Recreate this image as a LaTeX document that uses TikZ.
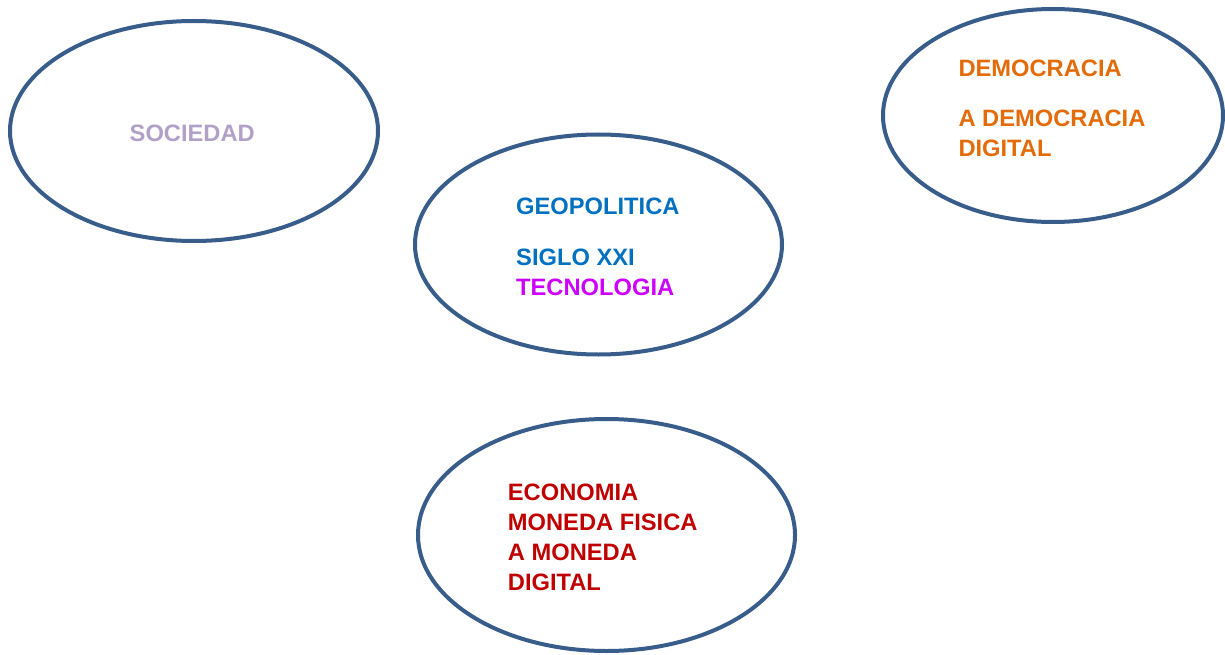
\documentclass[tikz,border=0pt]{standalone}
\usepackage{fontspec}
\setmainfont{Liberation Sans}
\usetikzlibrary{shapes.geometric}
\usetikzlibrary{positioning}

\definecolor{bubbleline}{HTML}{385D8A}
\definecolor{socio}{HTML}{B2A1C7}
\definecolor{geoblue}{HTML}{0070C0}
\definecolor{tecno}{HTML}{CC00FF}
\definecolor{demo}{HTML}{E36C09}
\definecolor{eco}{HTML}{C00000}

\begin{document}
\begin{tikzpicture}[
    x=1pt, y=-1pt,
    bubble/.style={ellipse, draw=bubbleline, line width=4pt, inner sep=0pt},
    words/.style={anchor=base west, align=left, inner sep=0pt,
                  font=\fontsize{23.7}{29.7}\selectfont\bfseries}
]
\useasboundingbox (0,0) rectangle (1225,655);

% --- Ellipses ---
\node[bubble, minimum width=368pt, minimum height=220pt] (soc) at (194,131) {};
\node[bubble, minimum width=367pt, minimum height=220pt] (geo) at (598.5,244.5) {};
\node[bubble, minimum width=340pt, minimum height=213pt] (dem) at (1053,115.5) {};
\node[bubble, minimum width=377pt, minimum height=232pt] (eco) at (606.5,535) {};

% --- Texts (placed at the baseline of their last line) ---
\node[words, text=socio] (soct) at (129.5,141.7) {SOCIEDAD};
\node[words, text=geoblue] (geot) at (516,295)
    {GEOPOLITICA\\[21pt] SIGLO XXI\\ \textcolor{tecno}{TECNOLOGIA}};
\node[words, text=demo] (demt) at (958.3,156.7)
    {DEMOCRACIA\\[21pt] A DEMOCRACIA\\ DIGITAL};
\node[words, text=eco] (ecot) at (507.7,590)
    {ECONOMIA\\ MONEDA FISICA\\ A MONEDA\\ DIGITAL};

\end{tikzpicture}
\end{document}
